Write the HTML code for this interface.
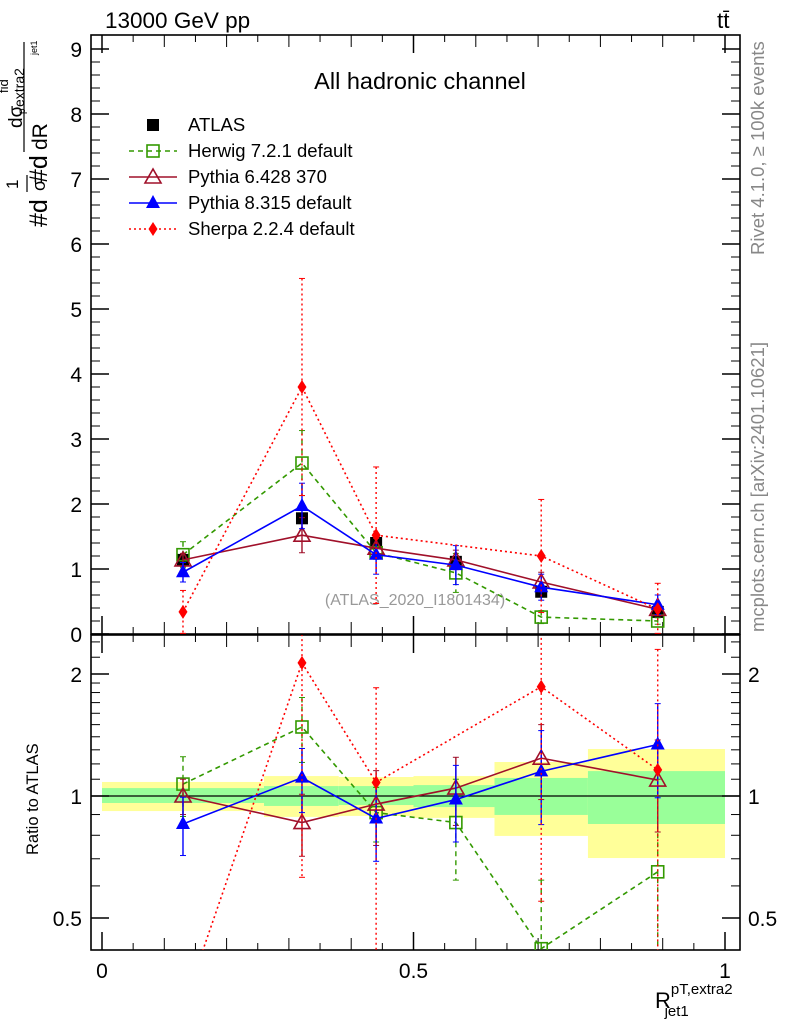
<!DOCTYPE html>
<html><head><meta charset="utf-8"><style>
html,body{margin:0;background:#fff;overflow:hidden;width:786px;height:1024px;}
svg{display:block;font-family:"Liberation Sans",sans-serif;overflow:hidden;}
</style></head><body>
<svg id="c" width="786" height="1024" viewBox="0 0 786 1024">
<text x="105" y="28" font-size="22.5">13000 GeV pp</text>
<text x="717" y="28" font-size="22.5">tt̄</text>
<text x="420" y="89" font-size="23.5" text-anchor="middle">All hadronic channel</text>
<text transform="translate(764,255) rotate(-90)" font-size="18.5" fill="#888">Rivet 4.1.0, ≥ 100k events</text>
<text transform="translate(764,632) rotate(-90)" font-size="18.5" fill="#888">mcplots.cern.ch [arXiv:2401.10621]</text>
<text x="415" y="605" font-size="16" fill="#999" text-anchor="middle">(ATLAS_2020_I1801434)</text>
<g transform="translate(45,228) rotate(-90)">
<text x="1" y="2" font-size="25">#d</text>
<text x="39" y="-27" font-size="17">1</text>
<line x1="36" x2="53" y1="-18" y2="-18" stroke="#000" stroke-width="1.2"/>
<text x="37" y="0" font-size="18">σ</text>
<text x="45" y="2" font-size="25">#d</text>
<line x1="76" x2="186" y1="-21" y2="-21" stroke="#000" stroke-width="1.2"/>
<text x="78" y="2" font-size="21">dR</text>
<text x="100" y="-23" font-size="19">dσ</text>
<text x="135" y="-37" font-size="13">fid</text>
<text x="114" y="-20" font-size="10">p</text>
<text x="121" y="-21" font-size="14">extra2</text>
<text x="173" y="-8" font-size="9">jet1</text>
</g>
<text transform="translate(38,855) rotate(-90)" font-size="16.5">Ratio to ATLAS</text>
<text x="655" y="1008" font-size="22">R<tspan font-size="15" dy="-14">pT,extra2</tspan><tspan font-size="15" dx="-68" dy="22">jet1</tspan></text>
<g id="bands"></g><g id="axes"></g><g id="series"></g><g id="legend"></g>
</svg>
<script>
const NS="http://www.w3.org/2000/svg";
const binLo=[0,0.26,0.38,0.5,0.63,0.78];
const binHi=[0.26,0.38,0.5,0.63,0.78,1.0];
const xs=[0.13,0.321,0.44,0.568,0.705,0.892];
const atlas=[1.14,1.78,1.40,1.11,0.65,0.34];
const atlasErr=[0.05,0.08,0.06,0.05,0.06,0.04];
const bandYelLo=[0.918,0.888,0.893,0.883,0.797,0.703];
const bandYelHi=[1.083,1.12,1.114,1.12,1.213,1.306];
const bandGrnLo=[0.961,0.945,0.95,0.939,0.898,0.853];
const bandGrnHi=[1.046,1.058,1.058,1.064,1.108,1.152];
const herwig=[1.22,2.63,1.25,0.94,0.26,0.20];
const herwigErr=[0.2,0.5,0.1,0.3,0.1,0.05];
const herwigR=[1.07,1.48,0.91,0.86,0.42,0.65];
const herwigRErr=[0.18,0.27,0.14,0.24,0.2,0.45];
const py6=[1.14,1.52,1.32,1.14,0.8,0.38];
const py6Err=[0.1,0.27,0.15,0.15,0.15,0.1];
const py6R=[1.0,0.86,0.955,1.046,1.24,1.095];
const py6RErr=[0.1,0.15,0.2,0.2,0.26,0.28];
const py8=[0.95,1.97,1.22,1.06,0.72,0.45];
const py8Err=[0.15,0.35,0.3,0.3,0.2,0.15];
const py8R=[0.853,1.11,0.88,0.98,1.15,1.34];
const py8RErr=[0.14,0.2,0.19,0.21,0.3,0.35];
const sherpa=[0.34,3.8,1.52,null,1.2,0.38];
const sherpaErr=[0.33,1.67,1.05,null,0.87,0.4];
const sherpaR=[0.3,2.13,1.08,null,1.86,1.16];
const sherpaRErr=[0.1,1.5,0.77,null,1.31,1.14];
const mainTicks=[0,1,2,3,4,5,6,7,8,9];
const ratioTicks=[0.5,1,2];
const ratioTickLabels=["0.5","1","2"];
const xTicks=[0,0.5,1];
const xTickLabels=["0","0.5","1"];

const L=91,R=740,MT=35,MB=634,RT=635,RB=950;
const X=v=>102+623*v;
const YM=v=>634-65*v;
const YR=v=>796-122*Math.log2(v);
function el(tag,attrs,parent){const e=document.createElementNS(NS,tag);for(const k in attrs)e.setAttribute(k,attrs[k]);parent.appendChild(e);return e;}
const svg=document.getElementById('c');
const defs=el('defs',{},svg);
const cm=el('clipPath',{id:'cm'},defs);el('rect',{x:L,y:MT,width:R-L,height:MB-MT},cm);
const cr=el('clipPath',{id:'cr'},defs);el('rect',{x:L,y:RT,width:R-L,height:RB-RT},cr);
const bands=document.getElementById('bands');
for(let i=0;i<binLo.length;i++){
  const y=el('rect',{x:X(binLo[i]),y:YR(bandYelHi[i]),width:X(binHi[i])-X(binLo[i]),height:YR(bandYelLo[i])-YR(bandYelHi[i]),fill:'#ffff99'},bands);
  
  
  const g=el('rect',{x:X(binLo[i]),y:YR(bandGrnHi[i]),width:X(binHi[i])-X(binLo[i]),height:YR(bandGrnLo[i])-YR(bandGrnHi[i]),fill:'#99ff99'},bands);
  
  
}
const ax=document.getElementById('axes');
el('line',{x1:L,x2:R,y1:796,y2:796,stroke:'#000','stroke-width':1.2},ax);
el('rect',{x:L,y:MT,width:R-L,height:MB-MT,fill:'none',stroke:'#000','stroke-width':1.6},ax);
el('rect',{x:L,y:RT,width:R-L,height:RB-RT,fill:'none',stroke:'#000','stroke-width':1.6},ax);
for(const t of mainTicks){
  el('line',{x1:L,x2:L+18,y1:YM(t),y2:YM(t),stroke:'#000','stroke-width':1.5},ax);
  el('line',{x1:R,x2:R-18,y1:YM(t),y2:YM(t),stroke:'#000','stroke-width':1.5},ax);
  const tx=el('text',{x:82,y:YM(t)+8,'font-size':21,'text-anchor':'end'},ax);tx.textContent=t;
  
  
  for(let k=1;k<5&&t<9;k++){const yy=YM(t+k*0.2);if(yy<MT)break;
    el('line',{x1:L,x2:L+9,y1:yy,y2:yy,stroke:'#000'},ax);el('line',{x1:R,x2:R-9,y1:yy,y2:yy,stroke:'#000'},ax);}
}
const rmin=[0.5,0.6,0.7,0.8,0.9,1.1,1.2,1.3,1.4,1.5,1.6,1.7,1.8,1.9,2.2,2.4];
for(const t of rmin){el('line',{x1:L,x2:L+9,y1:YR(t),y2:YR(t),stroke:'#000'},ax);el('line',{x1:R,x2:R-9,y1:YR(t),y2:YR(t),stroke:'#000'},ax);}
ratioTicks.forEach((t,i)=>{
  el('line',{x1:L,x2:L+18,y1:YR(t),y2:YR(t),stroke:'#000','stroke-width':1.5},ax);
  el('line',{x1:R,x2:R-18,y1:YR(t),y2:YR(t),stroke:'#000','stroke-width':1.5},ax);
  const a=el('text',{x:82,y:YR(t)+8,'font-size':21,'text-anchor':'end'},ax);a.textContent=ratioTickLabels[i];
  
  
  const b=el('text',{x:748,y:YR(t)+8,'font-size':21},ax);b.textContent=ratioTickLabels[i];
  
  
});
for(let v=0;v<=1.001;v+=0.05){const big=Math.abs(v*2-Math.round(v*2))<1e-6, mid=Math.abs(v*10-Math.round(v*10))<1e-6;
  const h=big?18:(mid?12:7);
  for(const [yb,dir] of [[MB,-1],[MT,1],[RB,-1],[RT,1]]) el('line',{x1:X(v),x2:X(v),y1:yb,y2:yb+dir*h,stroke:'#000','stroke-width':big?1.5:1},ax);}
xTicks.forEach((t,i)=>{const a=el('text',{x:X(t),y:978,'font-size':21,'text-anchor':'middle'},ax);a.textContent=xTickLabels[i];
  
  });

const S=document.getElementById('series');
function marker(g,type,x,y,col){
  if(type==='sq')el('rect',{x:x-6,y:y-6,width:12,height:12,fill:'#000'},g);
  if(type==='osq')el('rect',{x:x-6,y:y-6,width:12,height:12,fill:'none',stroke:col,'stroke-width':1.6},g);
  if(type==='otri')el('polygon',{points:`${x},${y-8} ${x-8},${y+6} ${x+8},${y+6}`,fill:'none',stroke:col,'stroke-width':1.6},g);
  if(type==='tri')el('polygon',{points:`${x},${y-8} ${x-7},${y+5} ${x+7},${y+5}`,fill:col},g);
  if(type==='dia')el('polygon',{points:`${x},${y-7} ${x-4.5},${y} ${x},${y+7} ${x+4.5},${y}`,fill:col},g);
}
function series(name,vals,errs,Y,col,dash,type,clip,line){
  const g=el('g',{'clip-path':`url(#${clip})`},S);
  
  
  const pts=[];
  vals.forEach((v,i)=>{if(v==null)return;pts.push(`${X(xs[i])},${Y(v)}`);});
  if(line)el('polyline',{points:pts.join(' '),fill:'none',stroke:col,'stroke-width':1.6,'stroke-dasharray':dash},g);
  vals.forEach((v,i)=>{if(v==null)return;const e=errs[i];const lo=Math.max(v-e,0.01);
    const x=X(xs[i]);
    el('line',{x1:x,x2:x,y1:Y(v+e),y2:Y(lo),stroke:col,'stroke-width':1.4,'stroke-dasharray':dash},g);
    el('line',{x1:x-3,x2:x+3,y1:Y(v+e),y2:Y(v+e),stroke:col},g);
    el('line',{x1:x-3,x2:x+3,y1:Y(lo),y2:Y(lo),stroke:col},g);
    marker(g,type,x,Y(v),col);});
}
series('atlas-data',atlas,atlasErr,YM,'#000','','sq','cm',false);
series('herwig-main',herwig,herwigErr,YM,'#339900','5,4','osq','cm',true);
series('pythia6-main',py6,py6Err,YM,'#a0102a','','otri','cm',true);
series('pythia8-main',py8,py8Err,YM,'#0000ff','','tri','cm',true);
series('sherpa-main',sherpa,sherpaErr,YM,'#ff0000','2,3','dia','cm',true);
series('herwig-ratio',herwigR,herwigRErr,YR,'#339900','5,4','osq','cr',true);
series('pythia6-ratio',py6R,py6RErr,YR,'#a0102a','','otri','cr',true);
series('pythia8-ratio',py8R,py8RErr,YR,'#0000ff','','tri','cr',true);
series('sherpa-ratio',sherpaR,sherpaRErr,YR,'#ff0000','2,3','dia','cr',true);

const lg=document.getElementById('legend');
const names=["ATLAS","Herwig 7.2.1 default","Pythia 6.428 370","Pythia 8.315 default","Sherpa 2.2.4 default"];
const cols=['#000','#339900','#a0102a','#0000ff','#ff0000'];
const dashes=['','5,4','','','2,3'];
const types=['sq','osq','otri','tri','dia'];
names.forEach((n,i)=>{const y=125+26*i;
  const g=el('g',{},lg);
  
  
  if(i>0)el('line',{x1:129,x2:177,y1:y,y2:y,stroke:cols[i],'stroke-width':1.6,'stroke-dasharray':dashes[i]},g);
  marker(g,types[i],153,y,cols[i]);
  const t=el('text',{x:188,y:y+6,'font-size':18.5},g);t.textContent=n;});
</script>
</body></html>
